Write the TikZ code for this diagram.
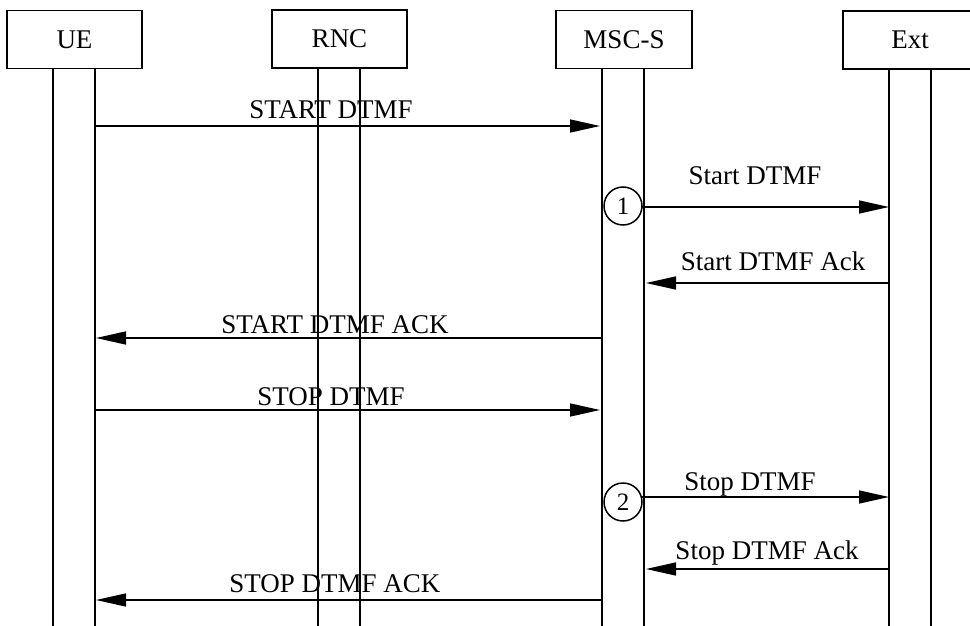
\documentclass[tikz,border=0pt]{standalone}
\usepackage{fontspec}
\setmainfont{Liberation Serif}
\usetikzlibrary{arrows.meta}
\begin{document}
\begin{tikzpicture}[x=1pt,y=-1pt,
  every node/.style={font=\fontsize{27}{31}\selectfont},
  entity/.style={draw,line width=1.5pt,minimum height=58pt,inner sep=0pt},
  life/.style={line width=1.5pt},
  msg/.style={line width=1.5pt,-{Triangle[length=30pt,width=13pt]}},
  lbl/.style={anchor=base,inner sep=0pt},
  step circle/.style={draw,circle,line width=1.5pt,minimum size=38pt,inner sep=0pt,font=\fontsize{25}{29}\selectfont}]
\useasboundingbox (0,0) rectangle (970,626);
\begin{scope}
\clip (0,0) rectangle (970,626);
% entity boxes
\node[entity,minimum width=135pt] (ue) at (74.5,39.5) {UE};
\node[entity,minimum width=135pt] (rnc) at (339.5,39) {RNC};
\node[entity,minimum width=136pt] (msc) at (624,39.5) {MSC-S};
\node[entity,minimum width=134pt] (ext) at (910,40) {Ext};
% lifelines
\coordinate (ueL) at (53,69);  \coordinate (ueR) at (95,69);
\coordinate (rncL) at (318,68); \coordinate (rncR) at (360,68);
\coordinate (mscL) at (602,69); \coordinate (mscR) at (644,69);
\coordinate (extL) at (889,69); \coordinate (extR) at (931,69);
\foreach \c in {ueL,ueR,rncL,rncR,mscL,mscR,extL,extR}
  \draw[life] (\c) -- (\c |- 0,626);
\end{scope}
% step circles
\node[step circle] (c1) at (623,206) {1};
\node[step circle] (c2) at (623,502) {2};
% message end points
\coordinate (m1a) at (95,126);  \coordinate (m1b) at (600,126);
\coordinate (m2a) at (642,207); \coordinate (m2b) at (889,207);
\coordinate (m3a) at (889,283); \coordinate (m3b) at (646,283);
\coordinate (m4a) at (602,338); \coordinate (m4b) at (96,338);
\coordinate (m5a) at (95,410);  \coordinate (m5b) at (600,410);
\coordinate (m6a) at (642,497); \coordinate (m6b) at (889,497);
\coordinate (m7a) at (889,569); \coordinate (m7b) at (646,569);
\coordinate (m8a) at (602,600); \coordinate (m8b) at (96,600);
% messages
\draw[msg] (m1a) -- (m1b);
\draw[msg] (m2a) -- (m2b);
\draw[msg] (m3a) -- (m3b);
\draw[msg] (m4a) -- (m4b);
\draw[msg] (m5a) -- (m5b);
\draw[msg] (m6a) -- (m6b);
\draw[msg] (m7a) -- (m7b);
\draw[msg] (m8a) -- (m8b);
% labels
\node[lbl] (l1) at (331,118) {START DTMF};
\node[lbl] (l2) at (755,184) {Start DTMF};
\node[lbl] (l3) at (773,270) {Start DTMF Ack};
\node[lbl] (l4) at (335,333) {START DTMF ACK};
\node[lbl] (l5) at (331,405) {STOP DTMF};
\node[lbl] (l6) at (750,490) {Stop DTMF};
\node[lbl] (l7) at (767,559) {Stop DTMF Ack};
\node[lbl] (l8) at (335,592) {STOP DTMF ACK};
\end{tikzpicture}
\end{document}
